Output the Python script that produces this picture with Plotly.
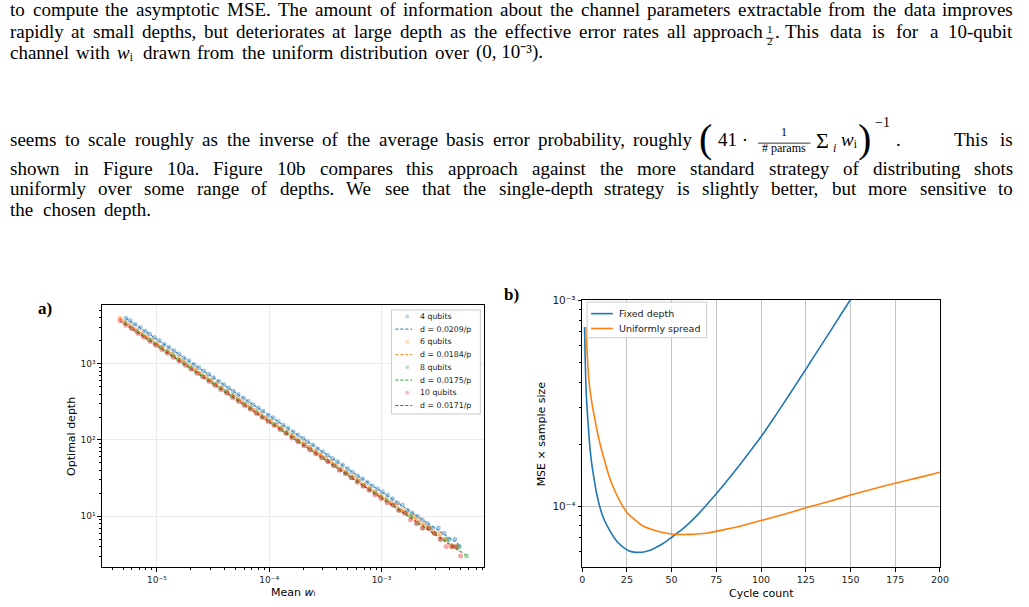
import re
import plotly.graph_objects as go

W, H = 1029, 607
SERIF = "Liberation Serif"
SANS = "DejaVu Sans"

# ---------------- data: panel a ----------------
series_names = ["4 qubits", "6 qubits", "8 qubits", "10 qubits"]
fit_labels = ["d = 0.0209/p", "d = 0.0184/p", "d = 0.0175/p", "d = 0.0171/p"]
fit_coef = [0.0209, 0.0184, 0.0175, 0.0171]
colors = ["#1f77b4", "#ff7f0e", "#2ca02c", "#d62728"]
colors_rgba = ["rgba(31,119,180,0.3)", "rgba(255,127,14,0.3)", "rgba(44,160,44,0.3)", "rgba(214,39,40,0.3)"]

q4_x = [5.3e-6, 5.8e-6, 6.4e-6, 7.1e-6, 7.9e-6, 8.6e-6, 9.5e-6, 1.05e-5, 1.16e-5, 1.28e-5, 1.42e-5, 1.57e-5, 1.74e-5, 1.93e-5, 2.13e-5, 2.36e-5, 2.61e-5, 2.9e-5, 3.2e-5, 3.55e-5, 3.93e-5, 4.35e-5, 4.8e-5, 5.3e-5, 5.9e-5, 6.5e-5, 7.2e-5, 8.0e-5, 8.8e-5, 9.8e-5, 1.08e-4, 1.2e-4, 1.33e-4, 1.47e-4, 1.63e-4, 1.8e-4, 2.0e-4, 2.2e-4, 2.45e-4, 2.7e-4, 3.0e-4, 3.3e-4, 3.65e-4, 4.05e-4, 4.5e-4, 5.0e-4, 5.5e-4, 6.1e-4, 6.75e-4, 7.5e-4, 8.3e-4, 9.2e-4, 1.02e-3, 1.13e-3, 1.25e-3, 1.38e-3, 1.53e-3, 1.7e-3, 1.88e-3, 2.08e-3, 2.3e-3, 2.55e-3, 2.85e-3, 3.2e-3, 3.6e-3, 4.0e-3, 4.5e-3, 4.9e-3]
q4_y = [3950, 3650, 3300, 2980, 2660, 2450, 2200, 2010, 1800, 1650, 1480, 1340, 1190, 1090, 975, 890, 800, 725, 655, 590, 535, 480, 437, 396, 355, 322, 290, 262, 238, 213, 195, 175, 157, 142, 128, 116, 105, 95, 86, 77, 70, 63, 57, 52, 47, 42, 38, 34, 31, 28, 25, 23, 21, 19, 17, 15, 14, 12, 11, 10, 9, 8, 7, 7, 6, 5, 5, 4]

q6_x = [4.7e-6, 5.2e-6, 5.8e-6, 6.5e-6, 7.3e-6, 8.1e-6, 9.0e-6, 1.0e-5, 1.12e-5, 1.25e-5, 1.4e-5, 1.56e-5, 1.74e-5, 1.95e-5, 2.18e-5, 2.43e-5, 2.72e-5, 3.04e-5, 3.4e-5, 3.8e-5, 4.25e-5, 4.75e-5, 5.3e-5, 5.95e-5, 6.65e-5, 7.4e-5, 8.3e-5, 9.3e-5, 1.04e-4, 1.16e-4, 1.3e-4, 1.45e-4, 1.62e-4, 1.81e-4, 2.03e-4, 2.27e-4, 2.54e-4, 2.84e-4, 3.17e-4, 3.55e-4, 3.97e-4, 4.44e-4, 4.96e-4, 5.55e-4, 6.2e-4, 6.95e-4, 7.75e-4, 8.7e-4, 9.7e-4, 1.09e-3, 1.22e-3, 1.36e-3, 1.52e-3, 1.7e-3, 1.9e-3, 2.12e-3, 2.37e-3, 2.65e-3, 2.97e-3, 3.32e-3, 3.7e-3, 4.15e-3, 4.6e-3]
q6_y = [3950, 3500, 3200, 2800, 2540, 2250, 2060, 1830, 1650, 1460, 1320, 1170, 1065, 940, 850, 752, 680, 602, 545, 482, 436, 385, 349, 308, 278, 247, 223, 197, 178, 158, 142, 126, 114, 101, 91, 81, 72, 65, 58, 52, 46, 41, 37, 33, 30, 26, 24, 21, 19, 17, 15, 14, 12, 11, 10, 9, 8, 7, 6, 6, 5, 4, 4]

q8_x = [5.2e-6, 5.9e-6, 6.6e-6, 7.5e-6, 8.5e-6, 9.6e-6, 1.08e-5, 1.22e-5, 1.38e-5, 1.56e-5, 1.76e-5, 1.99e-5, 2.25e-5, 2.54e-5, 2.87e-5, 3.24e-5, 3.66e-5, 4.14e-5, 4.68e-5, 5.29e-5, 5.98e-5, 6.76e-5, 7.64e-5, 8.63e-5, 9.75e-5, 1.1e-4, 1.245e-4, 1.41e-4, 1.59e-4, 1.8e-4, 2.03e-4, 2.3e-4, 2.6e-4, 2.94e-4, 3.32e-4, 3.75e-4, 4.24e-4, 4.79e-4, 5.41e-4, 6.11e-4, 6.9e-4, 7.8e-4, 8.8e-4, 9.95e-4, 1.12e-3, 1.27e-3, 1.43e-3, 1.62e-3, 1.83e-3, 2.07e-3, 2.34e-3, 2.64e-3, 2.98e-3, 3.37e-3, 3.8e-3, 4.3e-3, 4.85e-3, 5.7e-3]
q8_y = [3400, 2950, 2650, 2320, 2080, 1810, 1630, 1420, 1275, 1118, 1000, 875, 780, 686, 612, 538, 480, 421, 376, 330, 294, 258, 230, 202, 180, 159, 141, 124, 110, 97, 86, 76, 67, 60, 53, 47, 41, 37, 32, 29, 25, 22, 20, 18, 16, 14, 12, 11, 10, 8, 7, 7, 6, 5, 5, 4, 4, 3]

q10_x = [4.7e-6, 5.3e-6, 6.0e-6, 6.8e-6, 7.7e-6, 8.7e-6, 9.8e-6, 1.11e-5, 1.25e-5, 1.41e-5, 1.59e-5, 1.8e-5, 2.03e-5, 2.29e-5, 2.59e-5, 2.92e-5, 3.3e-5, 3.72e-5, 4.2e-5, 4.75e-5, 5.36e-5, 6.05e-5, 6.83e-5, 7.71e-5, 8.71e-5, 9.84e-5, 1.11e-4, 1.25e-4, 1.41e-4, 1.6e-4, 1.8e-4, 2.04e-4, 2.3e-4, 2.6e-4, 2.93e-4, 3.31e-4, 3.74e-4, 4.22e-4, 4.77e-4, 5.38e-4, 6.08e-4, 6.86e-4, 7.75e-4, 8.75e-4, 9.88e-4, 1.12e-3, 1.26e-3, 1.42e-3, 1.61e-3, 1.81e-3, 2.05e-3, 2.31e-3, 2.61e-3, 2.95e-3, 3.33e-3, 3.76e-3, 4.25e-3, 4.6e-3, 5.06e-3]
q10_y = [3650, 3200, 2870, 2500, 2230, 1950, 1750, 1530, 1375, 1205, 1080, 945, 846, 742, 664, 583, 520, 457, 409, 358, 320, 281, 252, 221, 197, 173, 155, 136, 122, 106, 95, 84, 74, 66, 58, 52, 46, 40, 36, 32, 28, 25, 22, 19, 17, 15, 14, 12, 11, 9, 8, 7, 7, 6, 5, 4, 4, 4, 3]

series_x = [q4_x, q6_x, q8_x, q10_x]
series_y = [q4_y, q6_y, q8_y, q10_y]

a_xtick_vals = [1e-5, 1e-4, 1e-3]
a_xtick_text = ["10\u207b\u2075", "10\u207b\u2074", "10\u207b\u00b3"]
a_ytick_vals = [1e1, 1e2, 1e3]
a_ytick_text = ["10\u00b9", "10\u00b2", "10\u00b3"]

# ---------------- data: panel b ----------------
cycles_fixed = [1.3, 1.7, 2.2, 3, 4, 5, 6, 7, 8, 10, 12, 14, 16, 18, 20, 23, 26, 29, 32, 35, 38, 42, 46, 50, 55, 60, 65, 70, 75, 80, 87.5, 95, 100, 105, 112.5, 120, 125, 130, 137.5, 145, 150, 152]
mse_fixed = [7.4e-4, 5.2e-4, 3.6e-4, 2.75e-4, 2.08e-4, 1.7e-4, 1.47e-4, 1.3e-4, 1.16e-4, 9.8e-5, 8.7e-5, 8.0e-5, 7.45e-5, 7.0e-5, 6.65e-5, 6.3e-5, 6.07e-5, 5.97e-5, 5.96e-5, 6.0e-5, 6.1e-5, 6.34e-5, 6.64e-5, 7.05e-5, 7.59e-5, 8.29e-5, 9.16e-5, 1.023e-4, 1.148e-4, 1.294e-4, 1.56e-4, 1.9e-4, 2.17e-4, 2.51e-4, 3.14e-4, 3.95e-4, 4.61e-4, 5.39e-4, 6.8e-4, 8.6e-4, 1.005e-3, 1.07e-3]
cycles_uniform = [2.2, 2.6, 3.2, 4, 5, 6, 8, 10, 12, 15, 18, 21, 25, 30, 34, 40, 45, 50, 55, 60, 70, 80, 90, 100, 112.5, 125, 137.5, 150, 162.5, 175, 187.5, 200]
mse_uniform = [7.4e-4, 6.0e-4, 4.8e-4, 3.9e-4, 3.35e-4, 2.97e-4, 2.4e-4, 2.0e-4, 1.72e-4, 1.4e-4, 1.2e-4, 1.06e-4, 9.3e-5, 8.5e-5, 8.0e-5, 7.65e-5, 7.44e-5, 7.32e-5, 7.27e-5, 7.28e-5, 7.4e-5, 7.7e-5, 8.05e-5, 8.5e-5, 9.1e-5, 9.8e-5, 1.05e-4, 1.13e-4, 1.21e-4, 1.29e-4, 1.37e-4, 1.46e-4]
b_names = ["Fixed depth", "Uniformly spread"]
b_colors = ["#1f77b4", "#ff7f0e"]
b_xticks = [0, 25, 50, 75, 100, 125, 150, 175, 200]
b_ytick_vals = [1e-4, 1e-3]
b_ytick_text = ["10\u207b\u2074", "10\u207b\u00b3"]


def fx(x):
    return x / W


def fy(y):
    return 1 - y / H


fig = go.Figure()

# panel a traces
for i in range(4):
    fig.add_trace(go.Scatter(
        x=series_x[i], y=series_y[i], mode="markers", name=series_names[i],
        marker=dict(size=5, color=colors[i], opacity=0.4, line=dict(width=0)),
        xaxis="x", yaxis="y", showlegend=False))
    xs = [min(series_x[i]), max(series_x[i])]
    fig.add_trace(go.Scatter(
        x=xs, y=[fit_coef[i] / v for v in xs], mode="lines", name=fit_labels[i],
        line=dict(color=colors[i], width=1, dash="3px,2px"),
        xaxis="x", yaxis="y", showlegend=False))

# panel b traces
fig.add_trace(go.Scatter(x=cycles_fixed, y=mse_fixed, mode="lines", name=b_names[0],
                         line=dict(color=b_colors[0], width=1.6, shape="spline", smoothing=0.5),
                         xaxis="x2", yaxis="y2", showlegend=False))
fig.add_trace(go.Scatter(x=cycles_uniform, y=mse_uniform, mode="lines", name=b_names[1],
                         line=dict(color=b_colors[1], width=1.6, shape="spline", smoothing=0.5),
                         xaxis="x2", yaxis="y2", showlegend=False))

a_xminor = [m * 10.0 ** e for e in range(-6, -2) for m in range(2, 10)]
a_yminor = [m * 10.0 ** e for e in range(0, 4) for m in range(2, 10)]
b_yminor = [m * 10.0 ** e for e in range(-5, -3) for m in range(2, 10)]

axis_common = dict(showline=True, linecolor="black", linewidth=1, mirror=True,
                   ticks="outside", tickcolor="black", tickwidth=0.8, zeroline=False)

fig.update_layout(
    width=W, height=H, margin=dict(l=0, r=0, t=0, b=0),
    paper_bgcolor="white", plot_bgcolor="white", showlegend=False,
    xaxis=dict(domain=[fx(100), fx(487)], type="log", range=[-5.49, -2.085], anchor="y",
               tickmode="array", tickvals=a_xtick_vals, ticktext=a_xtick_text, ticklen=3.5,
               tickfont=dict(family=SANS, size=9, color="#222"),
               showgrid=True, gridcolor="#ebebeb", gridwidth=1,
               minor=dict(tickmode="array", tickvals=a_xminor, ticks="outside", ticklen=2,
                          tickcolor="black", tickwidth=0.6, showgrid=False),
               **axis_common),
    yaxis=dict(domain=[fy(567), fy(302)], type="log", range=[0.329, 3.77], anchor="x",
               tickmode="array", tickvals=a_ytick_vals, ticktext=a_ytick_text, ticklen=3.5,
               tickfont=dict(family=SANS, size=9, color="#222"),
               showgrid=True, gridcolor="#ebebeb", gridwidth=1,
               minor=dict(tickmode="array", tickvals=a_yminor, ticks="outside", ticklen=2,
                          tickcolor="black", tickwidth=0.6, showgrid=False),
               **axis_common),
    xaxis2=dict(domain=[fx(586), fx(948)], range=[0, 200], anchor="y2",
                tickmode="array", tickvals=b_xticks, ticklen=3.5,
                tickfont=dict(family=SANS, size=9.5, color="#222"),
                showgrid=True, gridcolor="#c4c4c4", gridwidth=1.3,
                **axis_common),
    yaxis2=dict(domain=[fy(567), fy(297)], type="log", range=[-4.298, -3], anchor="x2",
                tickmode="array", tickvals=b_ytick_vals, ticktext=b_ytick_text, ticklen=3.5,
                tickfont=dict(family=SANS, size=10.5, color="#222"),
                showgrid=True, gridcolor="#c4c4c4", gridwidth=1.3,
                minor=dict(tickmode="array", tickvals=b_yminor, ticks="outside", ticklen=2,
                           tickcolor="black", tickwidth=0.6, showgrid=False),
                **axis_common),
)

ann = []
shapes = []

# approximate advance widths (1/1000 em) of the Times-metric serif font
TW = dict(zip("abcdefghijklmnopqrstuvwxyz",
              [444, 500, 444, 500, 444, 333, 500, 500, 278, 278, 500, 278, 778, 500, 500, 500, 500, 333, 389, 278, 500, 500, 722, 500, 500, 444]))
TW.update(zip("ABCDEFGHIJKLMNOPQRSTUVWXYZ",
              [722, 667, 667, 722, 611, 556, 722, 722, 333, 389, 722, 611, 889, 722, 722, 556, 722, 667, 556, 611, 722, 722, 944, 722, 722, 611]))
TW.update({c: 500 for c in "0123456789"})
TW.update({".": 250, ",": 250, "-": 333, "(": 333, ")": 333, " ": 250,
           "\u1d62": 250, "\u207b": 350, "\u00b3": 300})


def tw(s, size):
    s = re.sub(r"<[^>]*>", "", s)
    return sum(TW.get(c, 500) for c in s) * size / 1000.0


def txt(x, y, s, size=18, anchor="left", family=SERIF, yanchor="middle", color="black", dy=None, **kw):
    if family == SERIF:
        y = y + (dy if dy is not None else -0.32 * size)
    ann.append(dict(x=fx(x), y=fy(y), xref="paper", yref="paper", text=s, showarrow=False,
                    xanchor=anchor, yanchor=yanchor, borderpad=0, borderwidth=0,
                    font=dict(family=family, size=size, color=color), **kw))


def hline(x0, x1, y, color="black", width=1, dash=None):
    d = dict(type="line", xref="paper", yref="paper", x0=fx(x0), x1=fx(x1), y0=fy(y), y1=fy(y),
             line=dict(color=color, width=width), layer="above")
    if dash:
        d["line"]["dash"] = dash
    shapes.append(d)


def justify(words, y, x0, x1, size):
    """Typeset a justified line word by word between x0 and x1."""
    if isinstance(words, str):
        words = words.split(" ")
    widths = [tw(w, size) for w in words]
    gap = (x1 - x0 - sum(widths)) / max(len(words) - 1, 1)
    gap = max(gap, 0.2 * size)
    x = x0
    for k, (w, wd) in enumerate(zip(words, widths)):
        if k == len(words) - 1 and len(words) > 1:
            txt(x1, y, w, size, anchor="right")
        else:
            txt(x, y, w, size, anchor="left")
        x += wd + gap


# ---------------- page text ----------------
FS = 19
justify("to compute the asymptotic MSE. The amount of information about the channel parameters extractable from the data improves", 10, 7, 1022, FS)
justify("rapidly at small depths, but deteriorates at large depth as the effective error rates all approach", 32, 7, 769, FS)
txt(776, 27, "1", 11, anchor="center")
hline(772, 780, 32.5, width=0.8)
txt(776, 38.5, "2", 11, anchor="center")
txt(781, 32, ".", FS, anchor="left")
justify("This data is for a 10-qubit", 32, 791, 1022, FS)
justify(["channel", "with", "<i>w</i>\u1d62", "drawn", "from", "the", "uniform", "distribution", "over",
         "(0, 10\u207b\u00b3)."], 53, 7, 546, FS)

justify("seems to scale roughly as the inverse of the average basis error probability, roughly", 141, 7, 698, FS)
txt(711, 140, "(", 40, anchor="center", dy=-6)
txt(739, 141, "41 \u00b7", FS, anchor="center")
txt(790, 131, "1", 12, anchor="center")
hline(764, 817, 138.5, width=0.8)
txt(790, 147.5, "# params", 12, anchor="center")
txt(829, 141, "\u03a3", 22, anchor="center", dy=-5)
txt(841, 147, "<i>i</i>", 12, anchor="center")
txt(856, 141, "<i>w</i>\u1d62", FS, anchor="center")
txt(872, 140, ")", 40, anchor="center", dy=-6)
txt(890, 122, "\u22121", 14, anchor="center")
txt(906, 141, ".", FS, anchor="center")
justify("This is", 141, 962, 1022, FS)
justify("shown in Figure 10a. Figure 10b compares this approach against the more standard strategy of distributing shots", 170, 7, 1022, FS)
justify("uniformly over some range of depths. We see that the single-depth strategy is slightly better, but more sensitive to", 190, 7, 1022, FS)
justify("the chosen depth.", 212, 7, 150, FS)

# panel labels
txt(43, 311, "<b>a)</b>", 17, anchor="center")
txt(515, 297, "<b>b)</b>", 17, anchor="center")

# axis titles
txt(293, 592, "Mean <i>w</i>\u1d62", 11, anchor="center", family=SANS)
txt(70, 435, "Optimal depth", 11, anchor="center", family=SANS, textangle=-90)
txt(767, 593, "Cycle count", 11, anchor="center", family=SANS)
txt(545, 432, "MSE \u00d7 sample size", 11, anchor="center", family=SANS, textangle=-90)

# ---------------- legend panel a ----------------
shapes.append(dict(type="rect", xref="paper", yref="paper", x0=fx(393), x1=fx(483), y0=fy(307), y1=fy(412),
                   fillcolor="rgba(255,255,255,0.8)", line=dict(color="#cccccc", width=1), layer="above"))
row = 313.5
for i in range(4):
    shapes.append(dict(type="circle", xref="paper", yref="paper", x0=fx(407), x1=fx(411),
                       y0=fy(row - 2), y1=fy(row + 2), fillcolor=colors_rgba[i],
                       line=dict(width=0), layer="above"))
    txt(422, row, series_names[i], 7.8, family=SANS, color="#222")
    row += 12.86
    hline(397, 414, row, color=colors[i], width=1, dash="3px,2px")
    txt(422, row, fit_labels[i], 7.8, family=SANS, color="#222")
    row += 12.86

# ---------------- legend panel b ----------------
shapes.append(dict(type="rect", xref="paper", yref="paper", x0=fx(591), x1=fx(712), y0=fy(299), y1=fy(335),
                   fillcolor="rgba(255,255,255,0.8)", line=dict(color="#cccccc", width=1), layer="above"))
for i, yy in enumerate([310.7, 325.7]):
    hline(595, 617, yy, color=b_colors[i], width=1.6)
    txt(623, yy, b_names[i], 9.5, family=SANS, color="#222")

fig.update_layout(annotations=ann, shapes=shapes)
fig.write_html("out.html")
